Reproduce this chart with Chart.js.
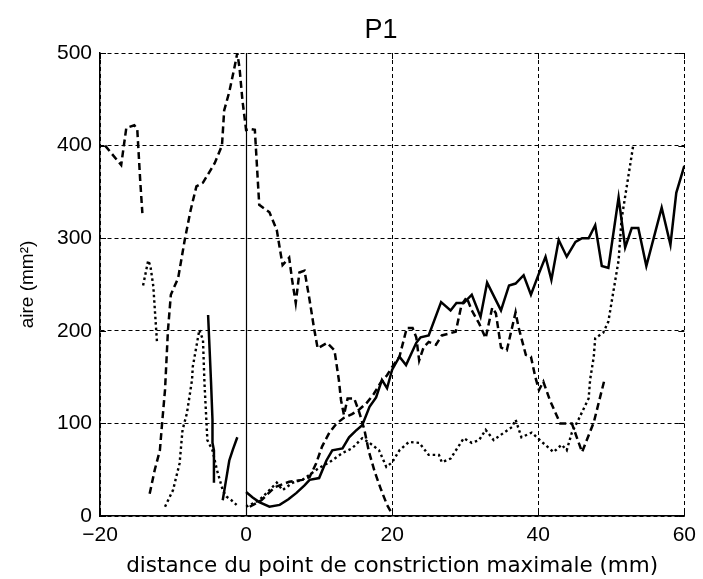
<!DOCTYPE html>
<html>
<head>
<meta charset="utf-8">
<script src="https://cdn.jsdelivr.net/npm/chart.js@4/dist/chart.umd.min.js"></script>
<style>
  html, body { margin: 0; padding: 0; background: #fff; }
</style>
</head>
<body>
<canvas id="chart" width="703" height="579"></canvas>
<script>
// axis ranges / ticks
const xRange = [-20, 60];
const yRange = [0, 500];

// solid curve (null = no value, line breaks)
const solidX = [-5.2, -5.0, -4.8, -4.6, -4.6, -4.4, -4.4, -3.8,
  -3.2, -2.8, -2.3, -1.8, -1.2, -0.6,
  0, 0.9, 1.8, 3.2, 4.6, 5.8, 6.9, 8.0, 8.7, 10, 11, 11.8, 13.2, 14.1, 15.0, 15.9, 16.9, 17.8, 18.6, 19.3,
  20, 21, 21.9, 23.3, 23.9, 25, 26.7, 28, 28.8, 29.8, 30.9, 32.1, 33, 34.9, 36, 36.9, 38, 39, 40.1, 41, 41.8,
  42.8, 43.9, 45.1, 46, 46.9, 47.8, 48.7, 49.6, 51, 51.9, 52.8, 53.7, 54.8, 56.9, 58.1, 58.9, 60];
const solidY = [217, 181, 145, 104, 79, 71, 36, null,
  17, 36, 60, 72, 85, null,
  26, 20, 15, 10, 12, 18, 25, 33, 39, 41, 60, 71, 73, 85, 92, 98, 118, 128, 147, 138,
  158, 172, 163, 187, 193, 195, 231, 222, 230, 230, 239, 215, 252, 222, 249, 251, 260, 239, 262, 280, 255,
  298, 280, 296, 300, 300, 314, 270, 268, 344, 290, 311, 311, 270, 333, 293, 349, 378];

// dashed curve with the 500 peak
const dashAX = [-13.2, -12.5, -11.8, -11.5, -11.1, -10.7, -10.3, -9.3, -8.4, -7.6, -6.8, -5.9, -4.3, -3.3, -3.0,
  -2.3, -1.6, -1.2, -0.9, -0.5, 0, 0.5, 1.2, 1.8, 3.2, 4.2, 4.7, 5.0, 5.9, 6.3, 6.8, 7.3, 8.0, 8.7, 9.3, 9.8,
  11.1, 12.1, 12.7, 13.0, 13.4, 13.9, 14.8, 15.5, 16.2, 16.8, 17.6, 18.5, 19.3, 20];
const dashAY = [24, 50, 71, 100, 136, 200, 239, 257, 298, 330, 356, 360, 381, 400, 438,
  458, 484, 500, 484, 449, 417, 418, 417, 336, 328, 309, 285, 271, 279, 255, 230, 263, 265, 233, 203, 181,
  187, 179, 147, 125, 109, 127, 127, 112, 93, 70, 48, 28, 12, 2];

// second dashed curve
const dashBX = [-19.3, -17.1, -16.4, -15.3, -14.9, -14.5, -14.2, -7,
  0.5, 2.1, 3.9, 5.9, 7.7, 8.7, 9.6, 10.4, 11.4, 12.4, 13.4, 14.5, 15.5, 16.5, 17.5, 18.5, 19.3, 20, 21,
  22, 22.8, 23.3, 23.7, 24.3, 25, 26, 26.8, 28.7, 29.5, 30.2, 30.9, 31.9, 32.8, 33.7, 34.2, 34.9, 35.7, 36.9,
  37.3, 38.3, 39, 39.6, 40.1, 40.7, 41.6, 43, 44.6, 46, 47.6, 49];
const dashBY = [400, 379, 419, 422, 418, 363, 327, null,
  10, 17, 31, 37, 39, 42, 57, 75, 90, 100, 106, 110, 115, 122, 132, 145, 152, 161, 172,
  203, 203, 193, 168, 182, 188, 185, 195, 199, 228, 236, 222, 208, 192, 225, 219, 182, 179, 220,
  204, 174, 172, 150, 136, 145, 125, 100, 100, 69, 101, 145];

// dotted curve
const dotX = [-14.1, -13.4, -13.1, -12.7, -12.2, -11.6,
  -11.1, -10, -9.1, -8.7, -8.1, -7.4, -7.3, -6.4, -5.9, -5.7, -5.3, -4.6, -4, -3.2, -2.7, -2, -1.3, -0.6,
  0, 1.8, 3.2, 4.2, 5, 6.4, 7.7, 10, 11.4, 13.2, 14.5, 15.9, 16.9, 18.2, 19.2, 20, 21, 22.3, 23.7, 25, 26.4,
  26.8, 28, 29.8, 30.9, 31.9, 32.8, 33.9, 35.3, 36.4, 36.9, 37.7, 39.1, 40.5, 42.1, 43.2, 43.9, 44.6, 45.5,
  46.9, 47.1, 47.6, 47.8, 48.9, 49.6, 51, 51.4, 53];
const dotY = [249, 276, 270, 248, 188, null,
  10, 28, 57, 93, 111, 147, 161, 201, 190, 144, 82, 71, 50, 28, 21, 17, 12, null,
  10, 17, 28, 36, 28, 36, 39, 52, 58, 68, 73, 84, 79, 71, 53, 58, 71, 80, 79, 66, 66,
  58, 62, 84, 79, 82, 93, 82, 90, 96, 104, 85, 90, 80, 69, 77, 71, 90, 104,
  127, 147, 172, 192, 198, 210, 276, 320, 400];

function points(xs, ys) {
  return xs.map((x, i) => ({ x: x, y: ys[i] }));
}

const FONT = 'Liberation Sans, Arial, sans-serif';

// solid reference line at x = 0 and inward tick marks (MATLAB style box)
const axisDecor = {
  id: 'axisDecor',
  beforeDatasetsDraw(chart) {
    const { ctx, chartArea: a, scales } = chart;
    const x0 = Math.round(scales.x.getPixelForValue(0)) + 0.5;
    ctx.save();
    ctx.strokeStyle = '#000';
    ctx.lineWidth = 1.2;
    ctx.setLineDash([]);
    ctx.beginPath();
    ctx.moveTo(x0, a.top);
    ctx.lineTo(x0, a.bottom);
    ctx.stroke();
    // inward ticks
    ctx.lineWidth = 1;
    const t = 6;
    scales.x.ticks.forEach(tk => {
      const px = Math.round(scales.x.getPixelForValue(tk.value)) + 0.5;
      ctx.beginPath();
      ctx.moveTo(px, a.bottom); ctx.lineTo(px, a.bottom - t);
      ctx.moveTo(px, a.top); ctx.lineTo(px, a.top + t);
      ctx.stroke();
    });
    scales.y.ticks.forEach(tk => {
      const py = Math.round(scales.y.getPixelForValue(tk.value)) + 0.5;
      ctx.beginPath();
      ctx.moveTo(a.left, py); ctx.lineTo(a.left + t, py);
      ctx.moveTo(a.right, py); ctx.lineTo(a.right - t, py);
      ctx.stroke();
    });
    ctx.restore();
  }
};

const ctx = document.getElementById('chart').getContext('2d');
new Chart(ctx, {
  type: 'line',
  data: {
    datasets: [
      { label: 'pointillé', data: points(dotX, dotY), borderColor: '#000', borderWidth: 2.4, borderDash: [2.5, 3] },
      { label: 'tirets B', data: points(dashBX, dashBY), borderColor: '#000', borderWidth: 2.5, borderDash: [7, 4] },
      { label: 'tirets A', data: points(dashAX, dashAY), borderColor: '#000', borderWidth: 2.5, borderDash: [7, 4] },
      { label: 'continu', data: points(solidX, solidY), borderColor: '#000', borderWidth: 2.5 }
    ]
  },
  options: {
    responsive: false,
    animation: false,
    spanGaps: false,
    elements: { point: { radius: 0 }, line: { tension: 0, fill: false } },
    layout: { padding: { left: 0, right: 15, top: 0, bottom: 0 } },
    plugins: {
      legend: { display: false },
      tooltip: { enabled: false },
      title: { display: false }
    },
    scales: {
      // top axis only carries the title (trailing spaces nudge it left like the original)
      top: {
        type: 'linear',
        position: 'top',
        min: xRange[0], max: xRange[1],
        afterFit: s => { s.height = 53; },
        ticks: { display: false },
        grid: { display: false },
        border: { display: false },
        title: {
          display: true,
          text: 'P1   ',
          color: '#000',
          font: { family: FONT, size: 27 },
          padding: { top: 14, bottom: 0 }
        }
      },
      x: {
        type: 'linear',
        position: 'bottom',
        min: xRange[0], max: xRange[1],
        afterFit: s => { s.height = 63; },
        ticks: {
          stepSize: 20,
          color: '#000',
          padding: 7,
          maxRotation: 0,
          font: { family: FONT, size: 21 },
          callback: v => String(v).replace('-', '\u2212')
        },
        grid: { color: '#000', lineWidth: 1, drawTicks: false },
        border: { display: true, color: '#000', width: 1.5, dash: [4, 3] },
        title: {
          display: true,
          text: 'distance du point de constriction maximale (mm)',
          color: '#000',
          font: { family: 'DejaVu Sans, sans-serif', size: 21.5 },
          padding: { top: 0, bottom: 0 }
        }
      },
      y: {
        min: yRange[0], max: yRange[1],
        afterFit: s => { s.width = 100; },
        ticks: {
          stepSize: 100,
          color: '#000',
          padding: 8,
          font: { family: FONT, size: 21 }
        },
        grid: { color: '#000', lineWidth: 1, drawTicks: false },
        border: { display: true, color: '#000', width: 1.5, dash: [4, 3] },
        title: {
          display: true,
          text: 'aire (mm\u00b2)',
          color: '#000',
          font: { family: FONT, size: 19 },
          padding: { top: 16, bottom: 0 }
        }
      }
    }
  },
  plugins: [axisDecor]
});
</script>
</body>
</html>
